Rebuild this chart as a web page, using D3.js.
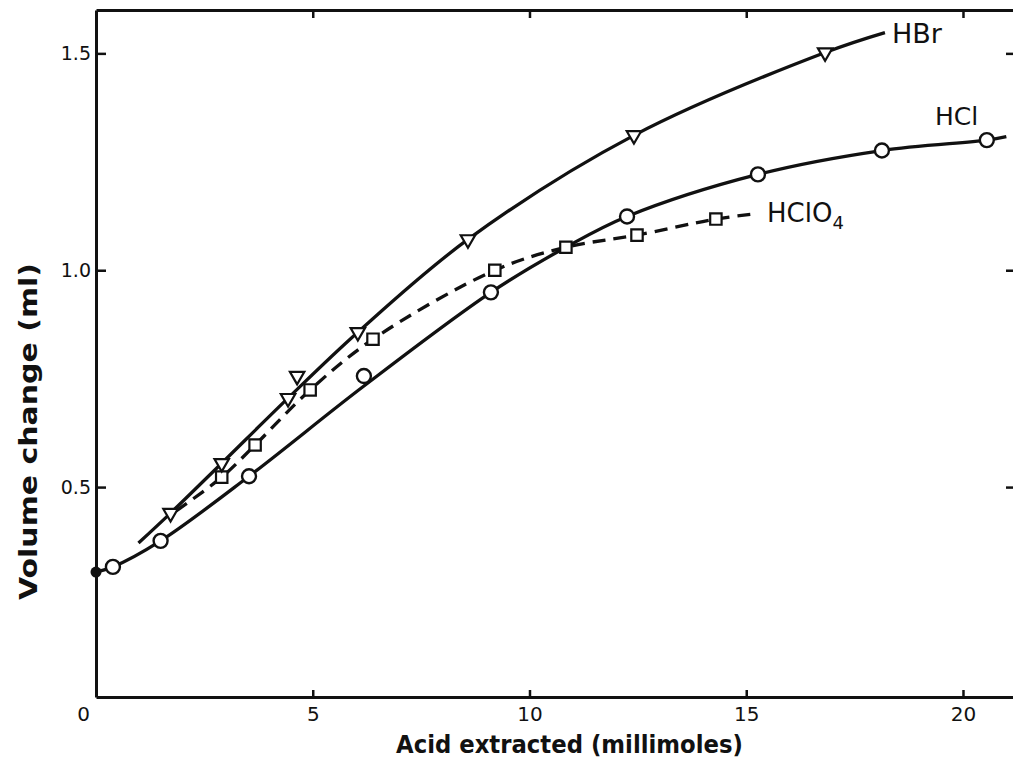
<!DOCTYPE html>
<html>
<head>
<meta charset="utf-8">
<script src="https://cdn.jsdelivr.net/npm/d3@7"></script>
<style>
  body { margin: 0; background: #fff; }
  svg { display: block; }
  .tick text { font-family: 'DejaVu Sans', sans-serif; fill: #111; }
</style>
</head>
<body>
<div id="graph"></div>
<script>
// tick labels
const xTicks = [0, 5, 10, 15, 20];
const yTicks = [0.5, 1.0, 1.5];

// HBr: measured points (triangles) and the drawn curve
const hbrX = [1.72, 2.9, 4.43, 4.64, 6.04, 8.58, 12.41, 16.82];
const hbrY = [0.44, 0.555, 0.705, 0.756, 0.857, 1.071, 1.311, 1.502];
const hbrCurveX = [0.98, 1.72, 2.9, 4.43, 6.04, 8.58, 12.41, 16.82, 18.2];
const hbrCurveY = [0.371, 0.44, 0.555, 0.705, 0.857, 1.071, 1.311, 1.502, 1.548];

// HCl: circles, curve, and the starting (filled) point
const hclX = [0.39, 1.49, 3.53, 6.18, 9.11, 12.25, 15.27, 18.13, 20.55];
const hclY = [0.316, 0.376, 0.525, 0.756, 0.949, 1.124, 1.221, 1.276, 1.30];
const hclCurveX = [0, 0.39, 1.49, 3.53, 6.18, 9.11, 10.84, 12.25, 15.27, 18.13, 20.55, 21.0];
const hclCurveY = [0.304, 0.316, 0.376, 0.525, 0.733, 0.949, 1.053, 1.124, 1.221, 1.276, 1.30, 1.308];
const startX = [0];
const startY = [0.304];

// HClO4: squares, dashed curve
const hcloX = [2.9, 3.67, 4.94, 6.39, 9.2, 10.84, 12.48, 14.3];
const hcloY = [0.523, 0.597, 0.724, 0.841, 1.0, 1.053, 1.081, 1.118];
const hcloCurveX = [1.85, 2.9, 3.67, 4.94, 6.39, 9.2, 10.84, 12.48, 14.3, 15.2];
const hcloCurveY = [0.445, 0.523, 0.597, 0.724, 0.841, 1.0, 1.053, 1.081, 1.118, 1.13];

const zip = (xs, ys) => xs.map((x, i) => ({x: x, y: ys[i]}));

const width = 1013;
const height = 771;
const ink = '#111';

const xScale = d3.scaleLinear().domain([0, 21.2]).range([96, 1015]);
const yScale = d3.scaleLinear().domain([0.016, 1.6]).range([697, 10]);

const svg = d3.select('#graph')
  .append('svg')
  .attr('width', width)
  .attr('height', height);

//axes
const xAxis = d3.axisBottom(xScale).tickValues(xTicks).tickSize(-7).tickSizeOuter(0)
  .tickPadding(10).tickFormat(d3.format('d'));
const yAxis = d3.axisLeft(yScale).tickValues(yTicks).tickSize(-10).tickSizeOuter(0)
  .tickPadding(5).tickFormat(d3.format('.1f'));
const xTop = d3.axisTop(xScale).tickValues(xTicks.slice(1)).tickSize(-8).tickSizeOuter(0).tickFormat('');
const yRight = d3.axisRight(yScale).tickValues(yTicks).tickSize(-9).tickSizeOuter(0).tickFormat('');

const gx = svg.append('g').attr('transform', 'translate(0,' + yScale(0.016) + ')').call(xAxis);
const gy = svg.append('g').attr('transform', 'translate(' + xScale(0) + ',0)').call(yAxis);
svg.append('g').attr('transform', 'translate(0,' + yScale(1.6) + ')').call(xTop);
svg.append('g').attr('transform', 'translate(' + xScale(21.2) + ',0)').call(yRight);

svg.selectAll('.domain').attr('stroke', ink).attr('stroke-width', 3);
svg.selectAll('.tick line').attr('stroke', ink).attr('stroke-width', 2.5);
gx.selectAll('.tick text').attr('font-size', 20);
gy.selectAll('.tick text').attr('font-size', 19);
gx.select('.tick text').attr('x', -13);

//axis titles
svg.append('text')
  .attr('x', 396).attr('y', 753)
  .attr('textLength', 347).attr('lengthAdjust', 'spacingAndGlyphs')
  .attr('font-family', 'DejaVu Sans, sans-serif').attr('font-weight', 'bold')
  .attr('font-size', 25).attr('fill', ink)
  .text('Acid extracted (millimoles)');

svg.append('text')
  .attr('transform', 'translate(37,600) rotate(-90)')
  .attr('textLength', 337).attr('lengthAdjust', 'spacingAndGlyphs')
  .attr('font-family', 'DejaVu Sans, sans-serif').attr('font-weight', 'bold')
  .attr('font-size', 25).attr('fill', ink)
  .text('Volume change (ml)');

//curves
const line = d3.line()
  .x(d => xScale(d.x))
  .y(d => yScale(d.y))
  .curve(d3.curveCatmullRom.alpha(0.5));

svg.append('path').datum(zip(hbrCurveX, hbrCurveY))
  .attr('d', line).attr('fill', 'none').attr('stroke', ink).attr('stroke-width', 3.3);
svg.append('path').datum(zip(hclCurveX, hclCurveY))
  .attr('d', line).attr('fill', 'none').attr('stroke', ink).attr('stroke-width', 3.3);
svg.append('path').datum(zip(hcloCurveX, hcloCurveY))
  .attr('d', line).attr('fill', 'none').attr('stroke', ink).attr('stroke-width', 3.3)
  .attr('stroke-dasharray', '13,8');

//markers
svg.selectAll('circle.hcl')
  .data(zip(hclX, hclY))
  .enter()
  .append('circle')
  .attr('class', 'hcl')
  .attr('cx', d => xScale(d.x))
  .attr('cy', d => yScale(d.y))
  .attr('r', 7)
  .attr('fill', '#fff').attr('stroke', ink).attr('stroke-width', 2.4);

svg.selectAll('circle.start')
  .data(zip(startX, startY))
  .enter()
  .append('circle')
  .attr('class', 'start')
  .attr('cx', d => xScale(d.x))
  .attr('cy', d => yScale(d.y))
  .attr('r', 5.5)
  .attr('fill', ink);

svg.selectAll('path.hcl4')
  .data(zip(hcloX, hcloY))
  .enter()
  .append('path')
  .attr('class', 'hcl4')
  .attr('d', d3.symbol(d3.symbolSquare, 130))
  .attr('transform', d => 'translate(' + xScale(d.x) + ',' + yScale(d.y) + ')')
  .attr('fill', '#fff').attr('stroke', ink).attr('stroke-width', 2.2);

svg.selectAll('path.hbr')
  .data(zip(hbrX, hbrY))
  .enter()
  .append('path')
  .attr('class', 'hbr')
  .attr('d', d3.symbol(d3.symbolTriangle, 90))
  .attr('transform', d => 'translate(' + xScale(d.x) + ',' + yScale(d.y) + ') rotate(180)')
  .attr('fill', '#fff').attr('stroke', ink).attr('stroke-width', 2.2);

//curve labels
const labels = svg.append('g')
  .attr('font-family', 'DejaVu Sans, sans-serif')
  .attr('fill', ink);

labels.append('text').attr('x', 892).attr('y', 43).attr('font-size', 27).text('HBr');
labels.append('text').attr('x', 935).attr('y', 125).attr('font-size', 25).text('HCl');
const t4 = labels.append('text').attr('x', 767).attr('y', 222).attr('font-size', 26);
t4.append('tspan').text('HClO');
t4.append('tspan').attr('font-size', 18).attr('dy', 7).text('4');
</script>
</body>
</html>
